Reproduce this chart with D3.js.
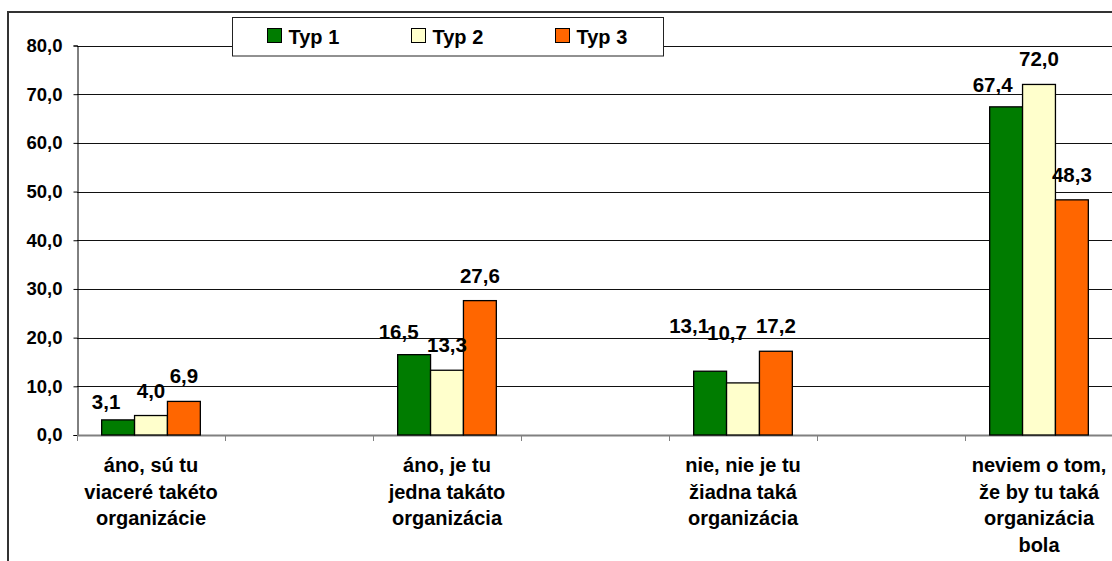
<!DOCTYPE html>
<html>
<head>
<meta charset="utf-8">
<script src="https://cdn.jsdelivr.net/npm/d3@7"></script>
<style>
  html, body { margin: 0; padding: 0; background: #fff; }
  svg { display: block; }
</style>
</head>
<body>
<svg id="chart" width="1112" height="561"></svg>
<script>
// Answer categories (each occupies every other slot on the category axis)
const categories = [
  ["áno, sú tu", "viaceré takéto", "organizácie"],
  ["áno, je tu", "jedna takáto", "organizácia"],
  ["nie, nie je tu", "žiadna taká", "organizácia"],
  ["neviem o tom,", "že by tu taká", "organizácia", "bola"]
];
const seriesNames = ["Typ 1", "Typ 2", "Typ 3"];
const typ1 = [3.1, 16.5, 13.1, 67.4];
const typ2 = [4.0, 13.3, 10.7, 72.0];
const typ3 = [6.9, 27.6, 17.2, 48.3];
const yTicks = [0, 10, 20, 30, 40, 50, 60, 70, 80];

// Hand-placed label nudges [dx, dy] in px for labels moved off their default spot
const labelNudge = [
  [[-12, 7], [0, 0], [0, 0]],
  [[-15.5, 2], [0, 0], [0, 0]],
  [[-21, -20], [-16, -25], [0, 0]],
  [[-13.5, 3.5], [0, 0], [0, 0]]
];

const seriesValues = [typ1, typ2, typ3];
const colors = ["#007C00", "#FFFFCC", "#FF6600"];
const fmt = v => d3.format(".1f")(v).replace(".", ",");
const font = "'Liberation Sans', Arial, sans-serif";

const svg = d3.select("#chart");

const plotLeft = 77, slotCount = categories.length * 2, slotW = 148;
const x0 = d3.scaleBand().domain(d3.range(slotCount))
  .range([plotLeft, plotLeft + slotCount * slotW]).paddingInner(0).paddingOuter(0);
const x1 = d3.scaleBand().domain(d3.range(seriesNames.length))
  .range([0, x0.bandwidth()]).paddingInner(0).paddingOuter(0.75);
const y = d3.scaleLinear().domain([0, 80]).range([435, 45.5]);

// Outer chart frame
svg.append("path")
  .attr("d", "M8,561 V12 H1112")
  .attr("fill", "none").attr("stroke", "#333").attr("stroke-width", 2);

// Horizontal gridlines
svg.append("g").selectAll("line").data(yTicks.filter(t => t > 0)).join("line")
  .attr("x1", plotLeft).attr("x2", 1112)
  .attr("y1", d => Math.round(y(d)) + 0.5).attr("y2", d => Math.round(y(d)) + 0.5)
  .attr("stroke", "#111").attr("stroke-width", 1);

// Y axis
const yAxis = d3.axisLeft(y).tickValues(yTicks).tickFormat(fmt).tickSize(4).tickPadding(11);
const gy = svg.append("g").attr("transform", `translate(${plotLeft + 0.5},0)`).call(yAxis);
gy.select(".domain").attr("stroke", "#000");
gy.selectAll(".tick line").attr("stroke", "#000");
gy.selectAll(".tick text")
  .attr("font-family", font).attr("font-weight", "bold").attr("font-size", 18.5)
  .attr("fill", "#000");

// X axis (slot boundaries as tick marks)
const gx = svg.append("g");
gx.append("line")
  .attr("x1", plotLeft).attr("x2", 1112).attr("y1", 435.5).attr("y2", 435.5)
  .attr("stroke", "#808080").attr("stroke-width", 2);
gx.selectAll("line.tk").data(d3.range(slotCount + 1)).join("line")
  .attr("class", "tk")
  .attr("x1", d => Math.round(plotLeft + d * slotW) + 0.5)
  .attr("x2", d => Math.round(plotLeft + d * slotW) + 0.5)
  .attr("y1", 435).attr("y2", 441)
  .attr("stroke", "#808080").attr("stroke-width", 1);

// Bars
const groups = svg.append("g").selectAll("g").data(categories).join("g")
  .attr("transform", (d, i) => `translate(${x0(i * 2)},0)`);
groups.selectAll("rect")
  .data((d, i) => seriesValues.map((vals, s) => ({ s, v: vals[i], c: i })))
  .join("rect")
  .attr("x", d => x1(d.s))
  .attr("width", x1.bandwidth())
  .attr("y", d => y(d.v))
  .attr("height", d => y(0) - y(d.v))
  .attr("fill", d => colors[d.s])
  .attr("stroke", "#000").attr("stroke-width", 1.3);

// Value labels
groups.selectAll("text")
  .data((d, i) => seriesValues.map((vals, s) => ({ s, v: vals[i], c: i })))
  .join("text")
  .attr("x", d => x1(d.s) + x1.bandwidth() / 2 + labelNudge[d.c][d.s][0])
  .attr("y", d => y(d.v) - 18 + labelNudge[d.c][d.s][1])
  .attr("text-anchor", "middle")
  .attr("font-family", font).attr("font-weight", "bold").attr("font-size", 20.5)
  .attr("fill", "#000")
  .text(d => fmt(d.v));

// Category labels
svg.append("g").selectAll("text").data(categories).join("text")
  .attr("x", (d, i) => x0(i * 2) + x0.bandwidth() / 2)
  .attr("y", 472)
  .attr("text-anchor", "middle")
  .attr("font-family", font).attr("font-weight", "bold").attr("font-size", 20)
  .attr("fill", "#000")
  .selectAll("tspan").data(d => d).join("tspan")
  .attr("x", function () { return d3.select(this.parentNode).attr("x"); })
  .attr("dy", (d, j) => j === 0 ? 0 : 26.7)
  .text(d => d);

// Legend
const legend = svg.append("g");
legend.append("rect")
  .attr("x", 232.5).attr("y", 17.5).attr("width", 431).attr("height", 38.5)
  .attr("fill", "#fff").attr("stroke", "#222").attr("stroke-width", 1);
const items = legend.selectAll("g").data(seriesNames).join("g")
  .attr("transform", (d, i) => `translate(${267 + i * 144},0)`);
items.append("rect")
  .attr("x", 0.5).attr("y", 28.5).attr("width", 14).attr("height", 14)
  .attr("fill", (d, i) => colors[i]).attr("stroke", "#000").attr("stroke-width", 1);
items.append("text")
  .attr("x", 21.5).attr("y", 43.5)
  .attr("font-family", font).attr("font-weight", "bold").attr("font-size", 20)
  .attr("fill", "#000")
  .text(d => d);
</script>
</body>
</html>
